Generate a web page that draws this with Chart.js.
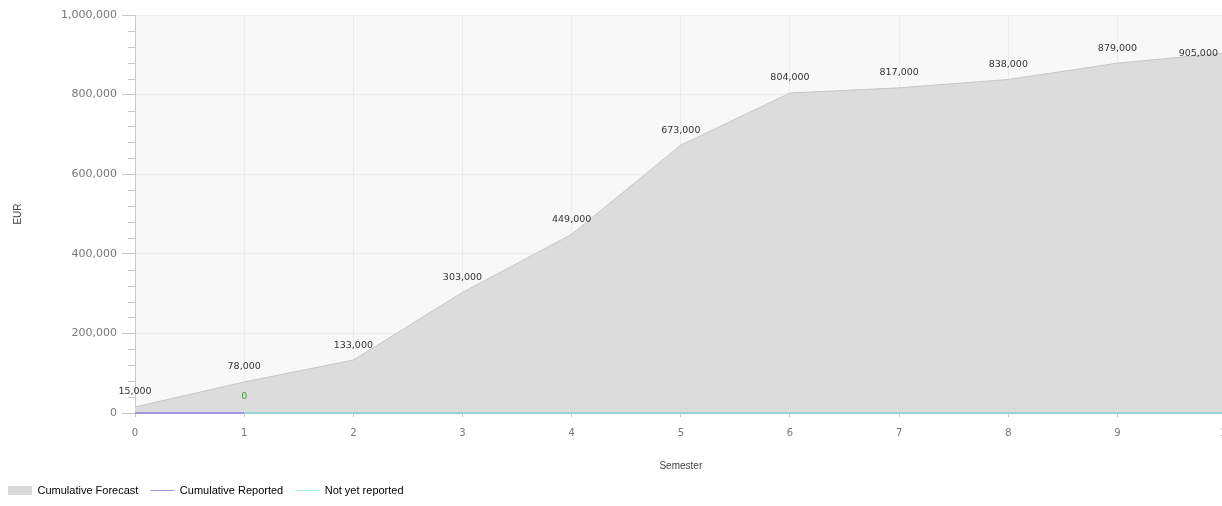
<!DOCTYPE html>
<html>
<head>
<meta charset="utf-8">
<script src="https://cdn.jsdelivr.net/npm/chart.js@4/dist/chart.umd.min.js"></script>
<style>
  html, body { margin: 0; padding: 0; background: #fff; overflow: hidden; }
  #wrap { width: 1243px; height: 506px; }
</style>
</head>
<body>
<div id="wrap"><canvas id="chart" width="1243" height="506"></canvas></div>
<script>
const semesters = [0, 1, 2, 3, 4, 5, 6, 7, 8, 9, 10];
const cumulativeForecast = [15000, 78000, 133000, 303000, 449000, 673000, 804000, 817000, 838000, 879000, 905000];
const reportedSemesters = [0, 1];
const cumulativeReported = [0, 0];
const pendingSemesters = [1, 2, 3, 4, 5, 6, 7, 8, 9, 10];
const notYetReported = [0, 0, 0, 0, 0, 0, 0, 0, 0, 0];
const seriesNames = ['Cumulative Forecast', 'Cumulative Reported', 'Not yet reported'];

const VIEW_W = 1222;
const toPoints = (xs, ys) => xs.map((x, i) => ({ x: x, y: ys[i] }));
const fmt = (v) => v.toLocaleString('en-US');

const plotBackground = {
  id: 'plotBackground',
  beforeDraw(chart) {
    const { ctx, chartArea: a } = chart;
    ctx.save();
    ctx.fillStyle = '#f8f8f8';
    ctx.fillRect(a.left, a.top, a.right - a.left, a.bottom - a.top);
    ctx.restore();
  },
};

const minorTicks = {
  id: 'minorTicks',
  afterDraw(chart) {
    const { ctx } = chart;
    const y = chart.scales.y;
    ctx.save();
    ctx.strokeStyle = '#c8c8c8';
    ctx.lineWidth = 1;
    for (let v = 0; v <= 1000000; v += 40000) {
      if (v % 200000 === 0) continue;
      const py = Math.round(y.getPixelForValue(v)) + 0.5;
      ctx.beginPath();
      ctx.moveTo(y.right - 7, py);
      ctx.lineTo(y.right, py);
      ctx.stroke();
    }
    ctx.restore();
  },
};

const valueLabels = {
  id: 'valueLabels',
  afterDatasetsDraw(chart) {
    const { ctx } = chart;
    ctx.save();
    ctx.font = '9.5px "DejaVu Sans"';
    ctx.textAlign = 'center';
    ctx.textBaseline = 'middle';
    chart.getDatasetMeta(0).data.forEach((pt, i) => {
      const text = fmt(cumulativeForecast[i]);
      const w = ctx.measureText(text).width;
      let x = pt.x, y = pt.y - 15;
      if (x + w / 2 > VIEW_W - 4) { x = VIEW_W - 4 - w / 2; y = pt.y + 1; }
      ctx.fillStyle = '#333';
      ctx.fillText(text, x, y);
    });
    const rep = chart.getDatasetMeta(1).data;
    const last = rep[rep.length - 1];
    ctx.fillStyle = '#3f9a3f';
    ctx.fillText(fmt(cumulativeReported[cumulativeReported.length - 1]), last.x, last.y - 16);
    ctx.restore();
  },
};

new Chart(document.getElementById('chart'), {
  type: 'line',
  data: {
    datasets: [
      { label: seriesNames[0], data: toPoints(semesters, cumulativeForecast), fill: 'origin', backgroundColor: '#dcdcdc', borderColor: '#c6c6c6', borderWidth: 1, pointRadius: 0, tension: 0, order: 3 },
      { label: seriesNames[1], data: toPoints(reportedSemesters, cumulativeReported), borderColor: '#a096dc', borderWidth: 2, pointRadius: 0, fill: false, clip: 4, order: 1 },
      { label: seriesNames[2], data: toPoints(pendingSemesters, notYetReported), borderColor: '#7fd4d0', borderWidth: 1.5, pointRadius: 0, fill: false, clip: 4, order: 2 },
    ],
  },
  options: {
    responsive: false,
    animation: false,
    layout: { padding: { top: 15, right: 11, left: -4, bottom: 0 } },
    plugins: {
      tooltip: { enabled: false },
      legend: {
        position: 'bottom',
        align: 'start',
        labels: {
          usePointStyle: true,
          pointStyleWidth: 24,
          boxHeight: 9,
          padding: 12,
          color: '#444',
          font: { family: '"Liberation Sans", Arial, sans-serif', size: 11 },
          generateLabels: () => [
            { text: seriesNames[0], pointStyle: 'rect', fillStyle: '#d9d9d9', strokeStyle: '#d9d9d9', lineWidth: 0, datasetIndex: 0 },
            { text: seriesNames[1], pointStyle: 'line', fillStyle: '#a096dc', strokeStyle: '#a096dc', lineWidth: 1, datasetIndex: 1 },
            { text: seriesNames[2], pointStyle: 'line', fillStyle: '#a8ecec', strokeStyle: '#a8ecec', lineWidth: 1, datasetIndex: 2 },
          ],
        },
      },
    },
    scales: {
      x: {
        type: 'linear',
        min: 0,
        max: 10,
        afterFit: (s) => { s.height = 60; },
        ticks: { stepSize: 1, color: '#777', padding: 10, font: { family: '"DejaVu Sans"', size: 10 } },
        grid: { color: '#ececec', tickColor: '#c8c8c8', tickLength: 4 },
        border: { color: '#c8c8c8' },
        title: { display: true, text: 'Semester', color: '#444', font: { family: '"Liberation Sans", Arial, sans-serif', size: 10 }, padding: { top: 0, bottom: 1 } },
      },
      y: {
        min: 0,
        max: 1000000,
        afterFit: (s) => { s.width = 139; },
        ticks: { stepSize: 200000, color: '#777', padding: 5, font: { family: '"DejaVu Sans"', size: 11 }, callback: (v) => fmt(v) },
        grid: { color: '#ececec', tickColor: '#c8c8c8', tickLength: 13 },
        border: { color: '#c8c8c8' },
        title: { display: true, text: 'EUR', color: '#444', font: { family: '"Liberation Sans", Arial, sans-serif', size: 10 }, padding: { top: 16, bottom: 0 } },
      },
    },
  },
  plugins: [plotBackground, minorTicks, valueLabels],
});
</script>
</body>
</html>
